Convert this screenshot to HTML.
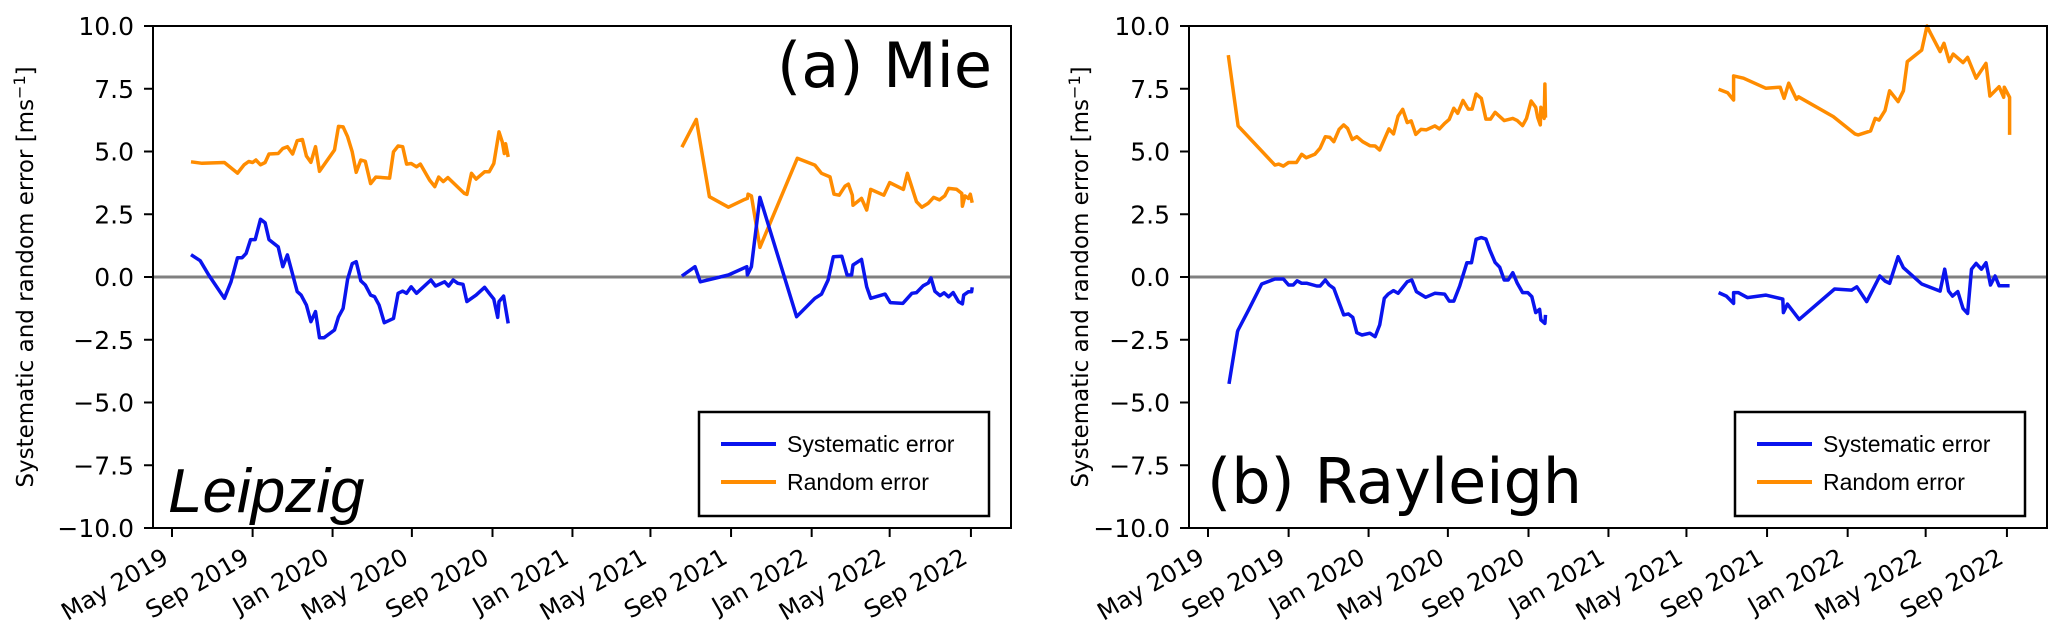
<!DOCTYPE html>
<html><head><meta charset="utf-8"><style>
html,body{margin:0;padding:0;background:#fff;}
svg{display:block;font-family:"DejaVu Sans","Liberation Sans",sans-serif;}
</style></head><body>
<svg id="chart" width="2067" height="643" viewBox="0 0 2067 643" xmlns="http://www.w3.org/2000/svg"></svg>
<script>
// x values = days since 2019-05-01
const tickLabels = ["May 2019","Sep 2019","Jan 2020","May 2020","Sep 2020","Jan 2021","May 2021","Sep 2021","Jan 2022","May 2022","Sep 2022"];
const tickDays = [0,123,245,366,489,611,730,853,976,1095,1219];
const yTicks = [10,7.5,5,2.5,0,-2.5,-5,-7.5,-10];
const yTickLabels = ["10.0","7.5","5.0","2.5","0.0","\u22122.5","\u22125.0","\u22127.5","\u221210.0"];

const mieSysDays1 = [29,43,56,80,90,100,107,113,120,127,135,142,148,162,169,176,183,191,197,205,212,219,225,232,248,254,261,268,275,281,288,295,303,309,316,324,338,345,352,358,365,373,395,402,416,422,429,436,444,450,464,477,484,491,497,499,506,513];
const mieSysVals1 = [0.89,0.65,0.08,-0.85,-0.19,0.77,0.77,0.94,1.49,1.49,2.30,2.16,1.49,1.20,0.41,0.88,0.21,-0.58,-0.72,-1.12,-1.78,-1.38,-2.42,-2.42,-2.11,-1.59,-1.25,-0.09,0.53,0.61,-0.15,-0.32,-0.72,-0.78,-1.12,-1.82,-1.65,-0.65,-0.56,-0.65,-0.39,-0.65,-0.12,-0.36,-0.19,-0.36,-0.12,-0.25,-0.29,-0.98,-0.72,-0.41,-0.65,-0.88,-1.61,-0.98,-0.76,-1.85];
const mieSysDays2 = [778,798,806,849,877,878,884,897,953,981,991,1001,1009,1022,1030,1037,1039,1052,1060,1066,1088,1096,1115,1129,1136,1146,1154,1158,1164,1172,1178,1185,1192,1200,1206,1208,1215,1220,1221];
const mieSysVals2 = [0.04,0.41,-0.19,0.08,0.41,0.08,0.41,3.17,-1.58,-0.85,-0.68,-0.12,0.81,0.83,0.08,0.08,0.48,0.70,-0.39,-0.85,-0.68,-1.02,-1.05,-0.65,-0.62,-0.35,-0.24,-0.04,-0.57,-0.74,-0.63,-0.79,-0.62,-0.98,-1.07,-0.72,-0.59,-0.59,-0.41];
const mieRanDays1 = [29,46,80,100,110,117,123,128,135,142,148,162,169,176,184,191,199,205,212,219,225,248,254,261,268,275,281,288,295,303,311,332,338,345,352,358,365,373,379,393,401,407,414,421,446,450,457,464,477,484,491,499,504,507,509,513];
const mieRanVals1 = [4.59,4.53,4.56,4.14,4.47,4.60,4.56,4.66,4.47,4.56,4.90,4.92,5.12,5.19,4.90,5.43,5.48,4.82,4.57,5.19,4.21,5.06,6.00,5.98,5.59,4.99,4.17,4.66,4.61,3.72,3.98,3.94,4.99,5.22,5.19,4.50,4.52,4.39,4.50,3.86,3.60,3.98,3.80,3.96,3.33,3.29,4.13,3.90,4.19,4.19,4.52,5.78,5.38,4.92,5.31,4.78];
const mieRanDays2 = [778,800,820,849,872,878,879,884,897,954,981,991,1004,1010,1018,1027,1032,1038,1039,1052,1060,1066,1086,1095,1116,1122,1136,1144,1154,1162,1171,1179,1185,1197,1205,1206,1210,1215,1218,1221];
const mieRanVals2 = [5.17,6.28,3.20,2.78,3.07,3.13,3.30,3.23,1.18,4.73,4.46,4.13,3.99,3.30,3.26,3.62,3.70,3.26,2.86,3.13,2.67,3.49,3.26,3.76,3.49,4.13,3.00,2.78,2.94,3.17,3.07,3.23,3.53,3.50,3.33,2.82,3.23,3.13,3.30,2.96];

const rayRanDays1 = [31,46,102,108,115,123,135,143,150,163,171,179,186,192,200,207,213,220,227,236,247,255,262,276,283,290,297,304,310,317,325,333,346,353,361,368,375,381,389,397,403,409,417,424,431,438,452,465,472,480,486,493,500,503,507,508,513,514,515];
const rayRanVals1 = [8.84,6.02,4.46,4.50,4.42,4.56,4.56,4.89,4.75,4.89,5.13,5.59,5.56,5.39,5.88,6.06,5.92,5.48,5.59,5.39,5.23,5.22,5.06,5.90,5.70,6.41,6.68,6.15,6.22,5.68,5.88,5.86,6.02,5.90,6.12,6.28,6.72,6.52,7.03,6.69,6.69,7.29,7.12,6.29,6.29,6.56,6.23,6.32,6.23,6.03,6.32,7.01,6.76,6.36,6.06,6.76,6.32,7.69,6.35];
const raySysDays1 = [32,45,46,62,82,102,115,123,130,136,143,151,166,171,179,185,192,207,214,221,227,235,247,255,262,269,275,283,290,297,304,311,318,332,346,361,368,375,384,395,402,409,417,424,430,438,445,452,458,465,472,480,488,494,500,506,508,514,515];
const raySysVals1 = [-4.26,-2.18,-2.11,-1.31,-0.28,-0.08,-0.08,-0.32,-0.32,-0.15,-0.25,-0.25,-0.36,-0.36,-0.12,-0.32,-0.45,-1.51,-1.47,-1.61,-2.22,-2.31,-2.24,-2.38,-1.91,-0.85,-0.68,-0.54,-0.65,-0.42,-0.19,-0.12,-0.58,-0.81,-0.65,-0.68,-0.96,-0.96,-0.36,0.57,0.57,1.50,1.57,1.51,1.08,0.58,0.39,-0.12,-0.12,0.17,-0.25,-0.62,-0.62,-0.78,-1.42,-1.29,-1.71,-1.85,-1.51];
const rayRanDays2 = [779,793,802,802,817,851,873,879,886,898,901,954,987,992,1011,1018,1024,1033,1040,1053,1061,1067,1089,1097,1102,1117,1123,1131,1137,1152,1159,1172,1187,1193,1207,1214,1215,1223,1223];
const rayRanVals2 = [7.48,7.34,7.05,8.01,7.92,7.52,7.56,7.12,7.72,7.08,7.18,6.39,5.70,5.66,5.82,6.32,6.25,6.63,7.42,6.99,7.42,8.58,9.04,10.0,9.73,8.98,9.31,8.58,8.88,8.54,8.75,7.92,8.51,7.21,7.58,7.16,7.56,7.16,5.66];
const raySysDays2 = [779,791,802,802,809,823,851,877,878,884,902,956,982,990,1005,1025,1033,1040,1053,1061,1089,1117,1124,1130,1136,1144,1152,1159,1165,1172,1180,1187,1194,1201,1207,1215,1223];
const raySysVals2 = [-0.62,-0.76,-1.05,-0.62,-0.62,-0.82,-0.72,-0.88,-1.42,-1.08,-1.69,-0.48,-0.52,-0.39,-0.98,0.04,-0.16,-0.25,0.81,0.37,-0.28,-0.56,0.31,-0.56,-0.76,-0.58,-1.25,-1.45,0.31,0.54,0.31,0.57,-0.32,0.04,-0.35,-0.35,-0.35];

const NS="http://www.w3.org/2000/svg";
const svg=document.getElementById('chart');
function mk(tag,attrs,parent){const e=document.createElementNS(NS,tag);for(const k in attrs)e.setAttribute(k,attrs[k]);(parent||svg).appendChild(e);return e;}

const PW=858, TOP=26, BOT=528, DAY0OFF=19, PXDAY=0.6554;
function drawPanel(x0, key, title, titleX, titleY, titleAnchor, sys1, sys2, ran1, ran2, labelX){
  const g=mk('g',{});
  
  
  const xs=d=>x0+DAY0OFF+d*PXDAY;
  const ys=v=>TOP+(10-v)*(BOT-TOP)/20;
  const z=mk('line',{x1:x0,x2:x0+PW,y1:ys(0),y2:ys(0),stroke:'#808080','stroke-width':3},g);
  
  
  yTicks.forEach((v,i)=>{
    const t=mk('line',{x1:x0-9,x2:x0,y1:ys(v),y2:ys(v),stroke:'#000','stroke-width':2},g);
    
    
    const tl=mk('text',{x:x0-19,y:ys(v)+9,'text-anchor':'end','font-size':25,fill:'#000'},g);
    tl.textContent=yTickLabels[i];
    
    
  });
  tickDays.forEach((d,i)=>{
    const x=xs(d);
    const t=mk('line',{x1:x,x2:x,y1:BOT,y2:BOT+9,stroke:'#000','stroke-width':2},g);
    
    
    const ax=x-2, ay=BOT+34;
    const tl=mk('text',{x:ax,y:ay,'text-anchor':'end','font-size':24,fill:'#000',transform:`rotate(-30 ${ax} ${ay})`},g);
    tl.textContent=tickLabels[i];
    
    
  });
  const yl=mk('text',{x:labelX,y:(TOP+BOT)/2,'text-anchor':'middle','font-size':23,fill:'#000',transform:`rotate(-90 ${labelX} ${(TOP+BOT)/2})`},g);
  yl.innerHTML='Systematic and random error [ms<tspan dy="-8" font-size="16">\u22121</tspan><tspan dy="8">]</tspan>';
  
  
  function line(days,vals,color,name){
    const p=mk('polyline',{points:days.map((d,i)=>xs(d).toFixed(1)+','+ys(vals[i]).toFixed(1)).join(' '),fill:'none',stroke:color,'stroke-width':3.5,'stroke-linejoin':'round'},g);
    
    
  }
  line(ran1[0],ran1[1],'#ff8c00','random-error-line');
  line(ran2[0],ran2[1],'#ff8c00','random-error-line');
  line(sys1[0],sys1[1],'#0a14ee','systematic-error-line');
  line(sys2[0],sys2[1],'#0a14ee','systematic-error-line');
  const fr=mk('rect',{x:x0,y:TOP,width:PW,height:BOT-TOP,fill:'none',stroke:'#000','stroke-width':2},g);
  
  
  const tt=mk('text',{x:titleX,y:titleY,'text-anchor':titleAnchor,'font-size':62,fill:'#000'},g);
  tt.textContent=title;
  
  
  const lg=mk('g',{},g);
  
  
  mk('rect',{x:x0+546,y:412,width:290,height:104,fill:'#fff',stroke:'#000','stroke-width':2.5},lg);
  const e1=mk('line',{x1:x0+568,x2:x0+623,y1:444,y2:444,stroke:'#0a14ee','stroke-width':4},lg);
  
  
  const t1=mk('text',{x:x0+634,y:452,'font-size':23,'font-family':'Liberation Sans, sans-serif',fill:'#000'},lg);
  t1.textContent='Systematic error';
  const e2=mk('line',{x1:x0+568,x2:x0+623,y1:482,y2:482,stroke:'#ff8c00','stroke-width':4},lg);
  
  
  const t2=mk('text',{x:x0+634,y:490,'font-size':23,'font-family':'Liberation Sans, sans-serif',fill:'#000'},lg);
  t2.textContent='Random error';
}
drawPanel(153,'mie','(a) Mie',992,87,'end',[mieSysDays1,mieSysVals1],[mieSysDays2,mieSysVals2],[mieRanDays1,mieRanVals1],[mieRanDays2,mieRanVals2],33);
drawPanel(1189,'rayleigh','(b) Rayleigh',1207,503,'start',[raySysDays1,raySysVals1],[raySysDays2,raySysVals2],[rayRanDays1,rayRanVals1],[rayRanDays2,rayRanVals2],1088);
const lp=mk('text',{x:168,y:512,'font-size':62,'font-style':'italic','font-family':'Liberation Sans, sans-serif',fill:'#000'});
lp.textContent='Leipzig';


</script>
</body></html>
